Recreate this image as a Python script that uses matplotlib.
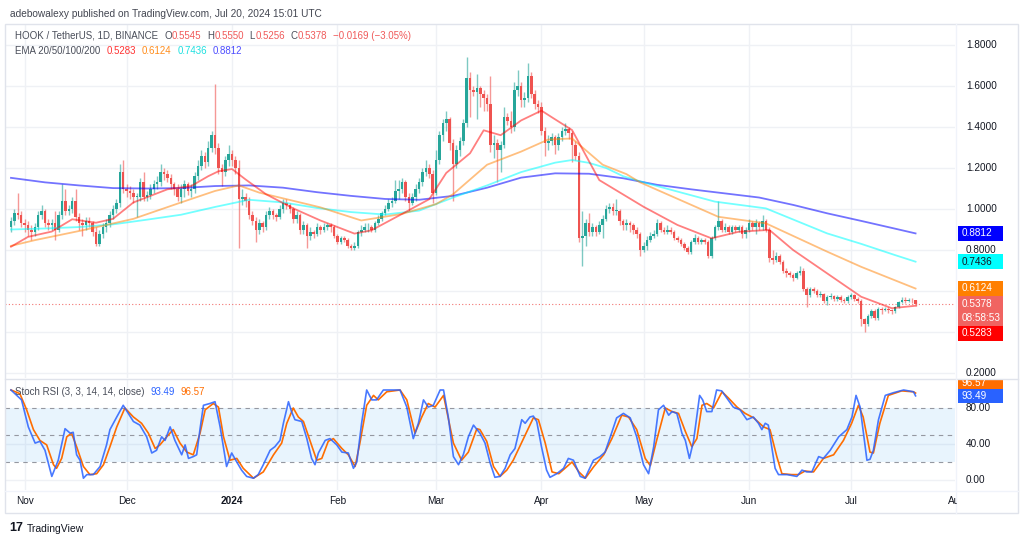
import numpy as np
import pandas as pd
import matplotlib
matplotlib.use("Agg")
import matplotlib.pyplot as plt
from matplotlib.patches import Rectangle
from matplotlib.transforms import blended_transform_factory, Bbox

plt.rcParams['font.family'] = ['Liberation Sans', 'DejaVu Sans']

# ---- data (HOOK/USDT daily) ----
start = pd.Timestamp('2023-10-28')
first_open = 0.91
close = [
    0.94, 0.98, 0.97, 0.93, 0.92, 0.90, 0.89, 0.91, 0.97, 0.99,
    0.93, 0.92, 0.93, 0.90, 0.97, 1.04, 0.99, 1.00, 1.04, 0.96,
    0.93, 0.92, 0.94, 0.93, 0.89, 0.83, 0.88, 0.91, 0.93, 0.97,
    1.00, 1.03, 1.18, 1.10, 1.09, 1.08, 1.06, 1.06, 1.13, 1.06,
    1.07, 1.10, 1.12, 1.13, 1.18, 1.17, 1.15, 1.12, 1.10, 1.06,
    1.10, 1.12, 1.09, 1.10, 1.16, 1.21, 1.26, 1.23, 1.30, 1.36,
    1.30, 1.20, 1.18, 1.24, 1.27, 1.24, 1.20, 1.05, 1.06, 1.04,
    0.97, 0.94, 0.90, 0.93, 0.91, 0.97, 0.99, 0.97, 0.96, 1.00,
    1.03, 1.02, 1.00, 0.95, 0.97, 0.90, 0.92, 0.87, 0.89, 0.88,
    0.91, 0.90, 0.91, 0.92, 0.91, 0.87, 0.84, 0.86, 0.85, 0.82,
    0.81, 0.82, 0.89, 0.90, 0.91, 0.91, 0.90, 0.93, 0.95, 0.98,
    1.00, 1.03, 1.04, 1.09, 1.10, 1.13, 1.06, 1.03, 1.06, 1.10,
    1.13, 1.18, 1.20, 1.17, 1.08, 1.24, 1.36, 1.42, 1.44, 1.32,
    1.22, 1.29, 1.33, 1.42, 1.64, 1.58, 1.57, 1.59, 1.56, 1.54,
    1.51, 1.31, 1.32, 1.29, 1.31, 1.45, 1.43, 1.40, 1.58, 1.60,
    1.53, 1.54, 1.65, 1.56, 1.51, 1.50, 1.38, 1.32, 1.33, 1.35,
    1.31, 1.35, 1.38, 1.39, 1.37, 1.31, 1.26, 0.86, 0.87, 0.93,
    0.89, 0.91, 0.89, 0.92, 0.95, 1.00, 1.01, 0.99, 0.99, 0.94,
    0.92, 0.93, 0.92, 0.90, 0.88, 0.80, 0.82, 0.85, 0.87, 0.88,
    0.93, 0.90, 0.89, 0.90, 0.89, 0.86, 0.85, 0.83, 0.81, 0.79,
    0.84, 0.86, 0.84, 0.85, 0.84, 0.77, 0.86, 0.91, 0.94, 0.90,
    0.91, 0.89, 0.91, 0.90, 0.91, 0.88, 0.90, 0.93, 0.91, 0.93,
    0.91, 0.94, 0.90, 0.76, 0.75, 0.77, 0.74, 0.70, 0.69, 0.68,
    0.665, 0.69, 0.70, 0.61, 0.58, 0.61, 0.60, 0.58, 0.585, 0.55,
    0.57, 0.575, 0.56, 0.57, 0.555, 0.55, 0.57, 0.58, 0.56, 0.55,
    0.465, 0.44, 0.48, 0.50, 0.47, 0.51, 0.505, 0.51, 0.505, 0.50,
    0.52, 0.545, 0.555, 0.55, 0.555, 0.5545, 0.5378,
]
high = [
    0.96, 1.00, 1.08, 0.99, 0.95, 0.94, 0.92, 0.93, 0.99, 1.02,
    1.00, 0.95, 0.95, 0.99, 0.99, 1.12, 1.10, 1.02, 1.06, 1.10,
    0.98, 0.95, 0.96, 0.96, 0.94, 0.91, 0.90, 0.93, 0.95, 0.99,
    1.02, 1.05, 1.22, 1.24, 1.12, 1.11, 1.10, 1.08, 1.15, 1.18,
    1.09, 1.12, 1.14, 1.16, 1.22, 1.20, 1.19, 1.17, 1.13, 1.12,
    1.12, 1.14, 1.13, 1.12, 1.18, 1.24, 1.29, 1.28, 1.33, 1.38,
    1.61, 1.32, 1.22, 1.26, 1.31, 1.29, 1.26, 1.24, 1.10, 1.08,
    1.06, 0.99, 0.96, 0.95, 0.94, 0.99, 1.01, 1.00, 0.98, 1.02,
    1.05, 1.05, 1.03, 1.01, 0.99, 0.98, 0.94, 0.93, 0.91, 0.90,
    0.93, 0.92, 0.93, 0.93, 0.93, 0.92, 0.88, 0.87, 0.87, 0.86,
    0.83, 0.84, 0.90, 0.92, 0.93, 0.93, 0.92, 0.94, 0.97, 0.99,
    1.02, 1.05, 1.06, 1.14, 1.14, 1.15, 1.14, 1.08, 1.08, 1.12,
    1.15, 1.20, 1.24, 1.22, 1.19, 1.29, 1.38, 1.44, 1.48, 1.45,
    1.34, 1.31, 1.35, 1.44, 1.74, 1.67, 1.60, 1.66, 1.60, 1.58,
    1.56, 1.65, 1.36, 1.34, 1.33, 1.50, 1.47, 1.48, 1.62, 1.68,
    1.62, 1.57, 1.71, 1.67, 1.58, 1.53, 1.52, 1.40, 1.36, 1.37,
    1.36, 1.37, 1.40, 1.42, 1.40, 1.38, 1.33, 1.28, 0.99, 0.95,
    0.98, 0.93, 0.92, 0.94, 0.97, 1.02, 1.03, 1.03, 1.05, 1.00,
    0.95, 0.95, 0.94, 0.93, 0.91, 0.89, 0.84, 0.87, 0.89, 0.90,
    0.95, 0.94, 0.91, 0.92, 0.91, 0.90, 0.87, 0.86, 0.84, 0.82,
    0.85, 0.88, 0.87, 0.86, 0.86, 0.85, 0.87, 0.92, 1.04, 0.95,
    0.93, 0.92, 0.92, 0.92, 0.92, 0.92, 0.91, 0.95, 0.94, 0.95,
    0.94, 0.97, 0.95, 0.91, 0.80, 0.79, 0.78, 0.75, 0.71, 0.70,
    0.69, 0.70, 0.72, 0.71, 0.62, 0.62, 0.62, 0.61, 0.60, 0.59,
    0.58, 0.59, 0.58, 0.58, 0.58, 0.565, 0.58, 0.59, 0.585, 0.57,
    0.56, 0.47, 0.49, 0.51, 0.51, 0.52, 0.52, 0.52, 0.52, 0.51,
    0.525, 0.55, 0.57, 0.57, 0.565, 0.565, 0.555,
]
low = [
    0.89, 0.92, 0.95, 0.91, 0.89, 0.87, 0.85, 0.87, 0.90, 0.95,
    0.91, 0.90, 0.90, 0.85, 0.89, 0.95, 0.97, 0.97, 0.98, 0.94,
    0.90, 0.87, 0.90, 0.91, 0.87, 0.82, 0.82, 0.86, 0.89, 0.91,
    0.95, 0.98, 1.01, 1.08, 1.06, 1.05, 1.03, 0.96, 1.04, 1.04,
    1.04, 1.05, 1.08, 1.10, 1.11, 1.14, 1.13, 1.10, 1.07, 1.04,
    1.03, 1.06, 1.07, 1.06, 1.08, 1.14, 1.19, 1.20, 1.21, 1.28,
    1.27, 1.17, 1.11, 1.16, 1.21, 1.21, 1.17, 0.81, 1.02, 1.01,
    0.95, 0.92, 0.84, 0.88, 0.89, 0.90, 0.95, 0.95, 0.94, 0.95,
    0.98, 1.00, 0.98, 0.93, 0.93, 0.88, 0.88, 0.81, 0.85, 0.86,
    0.87, 0.88, 0.89, 0.90, 0.89, 0.86, 0.83, 0.83, 0.84, 0.81,
    0.80, 0.80, 0.81, 0.87, 0.89, 0.89, 0.89, 0.89, 0.92, 0.94,
    0.97, 0.99, 1.01, 1.03, 1.05, 1.08, 1.04, 0.99, 1.02, 1.04,
    1.08, 1.11, 1.16, 1.15, 1.03, 1.07, 1.22, 1.33, 1.38, 1.29,
    1.04, 1.20, 1.26, 1.31, 1.40, 1.45, 1.55, 1.44, 1.50, 1.48,
    1.48, 1.28, 1.25, 1.13, 1.18, 1.30, 1.41, 1.37, 1.38, 1.55,
    1.50, 1.50, 1.52, 1.54, 1.49, 1.47, 1.36, 1.26, 1.29, 1.31,
    1.27, 1.29, 1.33, 1.36, 1.34, 1.23, 1.24, 0.84, 0.72, 0.82,
    0.87, 0.87, 0.87, 0.88, 0.86, 0.94, 0.98, 0.97, 0.97, 0.92,
    0.90, 0.90, 0.89, 0.88, 0.86, 0.77, 0.79, 0.80, 0.84, 0.86,
    0.87, 0.89, 0.88, 0.88, 0.88, 0.85, 0.84, 0.82, 0.80, 0.78,
    0.78, 0.83, 0.83, 0.83, 0.83, 0.76, 0.76, 0.85, 0.90, 0.89,
    0.89, 0.88, 0.88, 0.89, 0.89, 0.86, 0.86, 0.89, 0.90, 0.88,
    0.90, 0.90, 0.89, 0.74, 0.73, 0.74, 0.73, 0.69, 0.67, 0.67,
    0.65, 0.66, 0.68, 0.60, 0.52, 0.57, 0.59, 0.57, 0.57, 0.54,
    0.53, 0.56, 0.55, 0.55, 0.545, 0.54, 0.54, 0.56, 0.55, 0.54,
    0.43, 0.40, 0.43, 0.47, 0.46, 0.46, 0.49, 0.50, 0.495, 0.49,
    0.495, 0.515, 0.54, 0.54, 0.545, 0.54, 0.5256,
]

# EMA readings (day index, value)
ema20_d = [0, 5, 12, 18, 25, 30, 36, 46, 53, 58, 61, 65, 69, 75, 83, 91, 101, 106, 115,
           123, 128, 135, 139, 144, 150, 156, 159, 165, 173, 186, 196, 206, 214, 223,
           230, 240, 250, 259, 266]
ema20_v = [0.816, 0.864, 0.89, 0.95, 0.933, 0.952, 1.032, 1.096, 1.112, 1.16, 1.184, 1.195,
           1.144, 1.072, 1.003, 0.944, 0.88, 0.896, 0.976, 1.048, 1.176, 1.272, 1.384, 1.36,
           1.432, 1.48, 1.448, 1.385, 1.141, 1.011, 0.922, 0.857, 0.889, 0.898, 0.80, 0.686,
           0.572, 0.516, 0.528]
ema50_d = [0, 7, 21, 36, 50, 60, 67, 73, 91, 103, 115, 125, 130, 140, 150, 158, 165, 174,
           181, 185, 208, 222, 240, 250, 266]
ema50_v = [0.82, 0.848, 0.896, 0.952, 1.032, 1.088, 1.115, 1.08, 1.008, 0.944, 0.976, 1.024,
           1.072, 1.216, 1.28, 1.339, 1.344, 1.216, 1.17, 1.13, 0.962, 0.93, 0.792, 0.718, 0.612]
ema100_d = [0, 10, 20, 30, 40, 50, 60, 70, 80, 90, 100, 110, 120, 130, 140, 150, 160, 165,
            170, 175, 180, 186, 196, 207, 222, 240, 250, 260, 266]
ema100_v = [0.90, 0.905, 0.912, 0.925, 0.948, 0.972, 1.01, 1.045, 1.032, 1.005, 0.985, 0.973,
            0.992, 1.056, 1.115, 1.18, 1.226, 1.239, 1.225, 1.20, 1.16, 1.13, 1.085, 1.036,
            1.003, 0.881, 0.83, 0.775, 0.743]
ema200_d = [0, 10, 20, 30, 40, 50, 60, 70, 80, 90, 100, 110, 120, 130, 140, 150, 160, 170,
            180, 190, 200, 210, 220, 230, 240, 250, 260, 266]
ema200_v = [1.152, 1.13, 1.115, 1.102, 1.10, 1.102, 1.112, 1.115, 1.104, 1.082, 1.064, 1.049,
            1.045, 1.064, 1.104, 1.153, 1.174, 1.172, 1.150, 1.118, 1.096, 1.076, 1.056, 1.02,
            0.979, 0.942, 0.904, 0.881]

# Stoch RSI readings (day index, value)
k_d = [0, 3.1, 5.1, 7.1, 8.5, 10, 12, 13.9, 15.9, 17.4, 18.3, 19.3, 20.3, 21.3, 22.3, 24.2,
       26.2, 28.1, 29.1, 31.1, 33, 34.5, 36, 37.9, 39.9, 41.4, 42.8, 44.3, 45.3, 46.8, 48.2,
       50.2, 51.2, 52.2, 53.6, 54.6, 55.6, 56.6, 58.5, 60, 61.5, 63.4, 64.9, 66.4, 67.8,
       69.3, 71.3, 72.7, 74.2, 76.2, 77.6, 79.1, 80.1, 81.6, 82.5, 83.5, 85.5, 87, 88.4,
       89.4, 90.4, 92.4, 93.8, 95.8, 97.3, 99.2, 100.7, 101.7, 103.1, 104.6, 106.1, 107.5,
       109.5, 114.4, 116.4, 118.3, 119.8, 121.3, 122.7, 124.2, 126.2, 127.2, 128.6, 130.1,
       131.6, 133, 134.5, 136, 137.9, 139.4, 140.9, 142.3, 143.8, 145.3, 146.8, 148.2,
       150.2, 151.2, 152.6, 153.6, 154.6, 156, 157.5, 158.5, 160.5, 162.5, 163.9, 165.4,
       167.4, 168.8, 171.3, 173.2, 174.7, 176.6, 178.1, 180.1, 182.1, 184, 186, 187.5, 189,
       190.4, 191.9, 193.4, 194.4, 195.8, 197.3, 198.3, 199.5, 200.7, 202.5, 203.4, 204.6,
       206.1, 207.5, 209, 210.5, 212.4, 214.4, 216.4, 218.3, 219.8, 220.8, 221.8, 222.7,
       223.7, 224.7, 225.7, 228.2, 231.1, 232.6, 234, 235.5, 237.5, 238.9, 240.9, 243.4,
       245.8, 247.3, 248.5, 249.7, 251.7, 252.6, 253.6, 255.1, 257.1, 259.5, 262.5, 265.4, 266]
k_v = [100, 89, 59, 41, 43, 33, 4, 22, 57, 52, 53, 28, 22, 2, 6, 6,
       15, 39, 56, 70, 83, 74, 65, 61, 48, 30, 33, 48, 44, 59, 44,
       28, 39, 24, 26, 28, 57, 83, 85, 87, 59, 15, 30, 20, 11,
       4, 2, 6, 17, 33, 37, 44, 63, 87, 76, 67, 65, 46, 24,
       17, 30, 44, 46, 39, 31, 30, 13, 20, 63, 100, 89, 89,
       100, 100, 81, 46, 63, 89, 81, 83, 100, 100, 70, 26,
       17, 28, 48, 61, 52, 41, 19, 3, 4, 13, 28, 35,
       67, 63, 70, 71, 65, 37, 11, 3, 7, 13, 24, 22,
       4, 2, 22, 26, 31, 52, 69, 74, 69, 48, 17, 7, 37,
       78, 83, 72, 76, 74, 52, 44, 24, 43, 94, 89, 76,
       76, 100, 99, 91, 81, 78, 67, 70, 63, 56, 63, 61,
       37, 13, 6, 6, 4, 11, 9, 9, 26, 24, 33, 48,
       56, 70, 94, 81, 22, 23, 33, 67, 94, 97, 100, 98, 93.49]
d_d = [0, 2.6, 4.6, 6.6, 8.5, 10.5, 12.5, 13.4, 14.9, 16.4, 17.8, 19.3, 21.3, 23.2, 25.2,
       27.2, 29.1, 31.1, 33.5, 36, 38.4, 40.4, 42.4, 43.8, 45.8, 47.7, 49.7, 51.7, 53.6,
       55.6, 57.1, 59.5, 61, 62.5, 64.4, 66.4, 68.3, 71.3, 74.2, 77.2, 79.6, 81.1, 83,
       84.5, 86, 87.9, 89.9, 91.4, 93.3, 94.8, 97.3, 99.2, 101.2, 102.6, 104.6, 106.6, 108,
       110.5, 114.4, 116.4, 118.8, 120.8, 122.7, 124.7, 127.2, 130.1, 132.5, 134.5, 137,
       137.9, 139.9, 141.9, 143.8, 145.8, 147.7, 150.7, 153.6, 155.1, 157.1, 159.1, 161.1,
       163.5, 165, 167, 168.9, 171.4, 174.3, 176.7, 179.6, 181.6, 184, 186.5, 188, 190,
       192.4, 194.4, 196.3, 198.3, 200.2, 201.7, 203.2, 204.6, 206.6, 209.1, 211, 213.5,
       215.9, 218.4, 221.3, 223.2, 225.2, 226.7, 229.6, 231.6, 233.5, 236, 238.9, 241.9,
       244.8, 247.2, 249.2, 250.6, 252.6, 253.6, 255.5, 258, 261.9, 265.4, 266]
d_v = [100, 96, 78, 56, 44, 39, 17, 13, 24, 48, 52, 37, 15, 6, 7,
       17, 37, 59, 80, 70, 63, 52, 35, 39, 48, 56, 41, 31, 28,
       52, 78, 85, 81, 48, 22, 24, 13, 2, 9, 28, 41, 63, 80,
       70, 65, 44, 22, 24, 43, 46, 35, 28, 15, 41, 83, 94, 89,
       98, 100, 89, 52, 70, 85, 81, 94, 41, 22, 31, 57,
       56, 43, 15, 4, 11, 22, 46, 69, 67, 41, 9, 7,
       15, 20, 9, 2, 15, 28, 46, 72, 70, 56, 24, 16, 46,
       80, 76, 74, 54, 37, 46, 83, 85, 80, 98, 91, 81,
       74, 69, 59, 56, 26, 7, 6, 6, 10, 9, 24, 28,
       44, 63, 83, 70, 31, 30, 63, 94, 99, 98, 96.57]

price_ticks = [1.8, 1.6, 1.4, 1.2, 1.0, 0.8, 0.2]
rsi_ticks = [80, 40, 0]
month_labels = ['Nov', 'Dec', '2024', 'Feb', 'Mar', 'Apr', 'May', 'Jun', 'Jul', 'Aug']

# ---- figure ----
W, H = 1024, 543
fig = plt.figure(figsize=(W / 100, H / 100), dpi=100)
fig.patch.set_facecolor('white')


def pane(l, t, r, b):
    a = fig.add_axes([l / W, 1 - b / H, (r - l) / W, (b - t) / H])
    a.set_axis_off()
    return a


ax = pane(5, 25, 955, 378)
axr = pane(5, 380, 955, 490)
ov = fig.add_axes([0, 0, 1, 1])
ov.set_xlim(0, W)
ov.set_ylim(H, 0)
ov.set_axis_off()

xlim = (-1.76, 277.6)
ax.set_xlim(*xlim)
ax.set_ylim(0.1756, 1.8976)
axr.set_xlim(*xlim)
axr.set_ylim(-11.1, 111.1)

grid = '#eff1f5'
month_days = (pd.date_range('2023-11-01', '2024-08-01', freq='MS') - start).days
for m in month_days:
    ax.axvline(m, color=grid, lw=1, zorder=0)
    axr.axvline(m, color=grid, lw=1, zorder=0)
for p in np.arange(0.2, 1.81, 0.2):
    ax.axhline(p, color=grid, lw=1, zorder=0)
for v in (0, 40):
    axr.axhline(v, color=grid, lw=1, zorder=0)

# candles
c = np.array(close)
o = np.r_[first_open, c[:-1]]
days = np.arange(len(c))
cols = np.where(c >= o, '#26a69a', '#ef5350')
ax.vlines(days, low, high, colors=cols, lw=1, alpha=0.6, zorder=2)
ax.bar(days, np.maximum(np.abs(c - o), 0.004), bottom=np.minimum(o, c), width=0.75,
       color=cols, linewidth=0, zorder=3)

# EMAs
ax.plot(ema200_d, ema200_v, color='#0000ff', alpha=0.55, lw=1.3, zorder=4)
ax.plot(ema100_d, ema100_v, color='#00ffff', alpha=0.55, lw=1.3, zorder=4)
ax.plot(ema50_d, ema50_v, color='#ff8000', alpha=0.5, lw=1.3, zorder=4)
ax.plot(ema20_d, ema20_v, color='#ff0000', alpha=0.5, lw=1.3, zorder=4)
ax.axhline(c[-1], color='#ef5350', ls=(0, (1, 2)), lw=0.8, alpha=0.8, zorder=1)

# Stoch RSI
axr.axhspan(20, 80, color='#2196f3', alpha=0.1, lw=0, zorder=0)
for v in (80, 50, 20):
    axr.axhline(v, color='#9598a1', ls=(0, (4, 4)), lw=0.8, zorder=1)
axr.plot(d_d, d_v, color='#ff6d00', lw=1.2, zorder=3)
axr.plot(k_d, k_v, color='#2962ff', lw=1.2, alpha=0.85, zorder=4)

# frame and separators
fc = '#e0e3eb'
ov.add_patch(Rectangle((5, 24), 1013, 489, fill=False, ec=fc, lw=1))
ov.plot([5, 1018], [379, 379], color=fc, lw=1)
ov.plot([5, 1018], [490.5, 490.5], color='#f0f3fa', lw=1)
ov.plot([956, 956], [24, 513], color='#f0f3fa', lw=1)

txt = '#131722'
fs = 7.2

# price scale
tp = blended_transform_factory(ax.transAxes, ax.transData)
tr = blended_transform_factory(axr.transAxes, axr.transData)
xl = (966 - 5) / 950
for p in price_ticks:
    ax.text(xl, p, f'{p:.4f}', transform=tp, fontsize=fs, color=txt, va='center', clip_on=False)
for v in rsi_ticks:
    axr.text(xl, v, f'{v:.2f}', transform=tr, fontsize=fs, color=txt, va='center', clip_on=False)

tx0 = (958 - 5) / 950
tw = 45 / 950
clip = Bbox.from_extents(0, H - 490, W, H - 379)


def tag(a, trans, y, h, label, bg, fg, cl=None, alpha=1.0):
    r = Rectangle((tx0, y - h / 2), tw, h, transform=trans, color=bg, lw=0,
                  clip_on=cl is not None, alpha=alpha)
    a.add_patch(r)
    t = a.text(tx0 + 4 / 950, y, label, transform=trans, fontsize=fs, color=fg,
               va='center', clip_on=cl is not None)
    if cl is not None:
        r.set_clip_box(cl)
        t.set_clip_box(cl)


ph = 15 / 205
tag(ax, tp, 0.8812, ph, '0.8812', '#0000ff', 'white')
tag(ax, tp, 0.7436, ph, '0.7436', '#00ffff', '#131722')
tag(ax, tp, 0.6124, ph, '0.6124', '#ff7f00', 'white')
ax.add_patch(Rectangle((tx0, 0.5378 - 22 / 205), tw, 30 / 205, transform=tp,
                       color='#ef5350', alpha=0.9, lw=0, clip_on=False))
ax.text(tx0 + 4 / 950, 0.5378, '0.5378', transform=tp, fontsize=fs, color='white',
        va='center', clip_on=False)
ax.text(tx0 + 4 / 950, 0.5378 - 14 / 205, '08:58:53', transform=tp, fontsize=fs,
        color='white', va='center', clip_on=False)
tag(ax, tp, 0.395, ph, '0.5283', '#ff0000', 'white')
rh = 14 / 0.9
tag(axr, tr, 107.8, rh, '96.57', '#ff6d00', 'white', cl=clip)
tag(axr, tr, 93.0, rh, '93.49', '#2962ff', 'white')

# time axis
tt = blended_transform_factory(axr.transData, ov.transData)
for m, lab in zip(month_days, month_labels):
    t = ov.text(m, 500.5, lab, transform=tt, fontsize=fs, color=txt, ha='center', va='center',
                fontweight='bold' if lab == '2024' else 'normal', clip_on=True)
    t.set_clip_box(Bbox.from_extents(0, 0, 957, H))

# legends
rend = fig.canvas.get_renderer()


def runs(x, y, parts, size=fs):
    for s, col in parts:
        if s is None:
            x += col
            continue
        t = ov.text(x, y, s, fontsize=size, color=col, va='center', ha='left')
        x += t.get_window_extent(renderer=rend).width


dark = '#4a4e5a'
red = '#f05a5a'
runs(10, 14, [('adebowalexy published on TradingView.com, Jul 20, 2024 15:01 UTC', '#434651')], size=7.3)
runs(15, 36, [('HOOK / TetherUS, 1D, BINANCE', dark), (None, 6),
              ('O', dark), ('0.5545', red), (None, 6), ('H', dark), ('0.5550', red), (None, 6),
              ('L', dark), ('0.5256', red), (None, 6), ('C', dark), ('0.5378', red), (None, 6),
              ('\u22120.0169 (\u22123.05%)', red)], size=7.05)
runs(15, 51, [('EMA 20/50/100/200', dark), (None, 6), ('0.5283', '#ff3333'), (None, 6),
              ('0.6124', '#ff8c1a'), (None, 6), ('0.7436', '#1de0e0'), (None, 6),
              ('0.8812', '#4d4dff')], size=7.05)
runs(15, 392, [('Stoch RSI (3, 3, 14, 14, close)', dark), (None, 6), ('93.49', '#2962ff'),
               (None, 6), ('96.57', '#ff6d00')], size=7.05)

ov.text(9, 528, '17', fontsize=9, fontweight='heavy', color=txt, va='center')
ov.text(27, 528.5, 'TradingView', fontsize=7.5, color=txt, va='center')

fig.savefig('out.png', dpi=100)
